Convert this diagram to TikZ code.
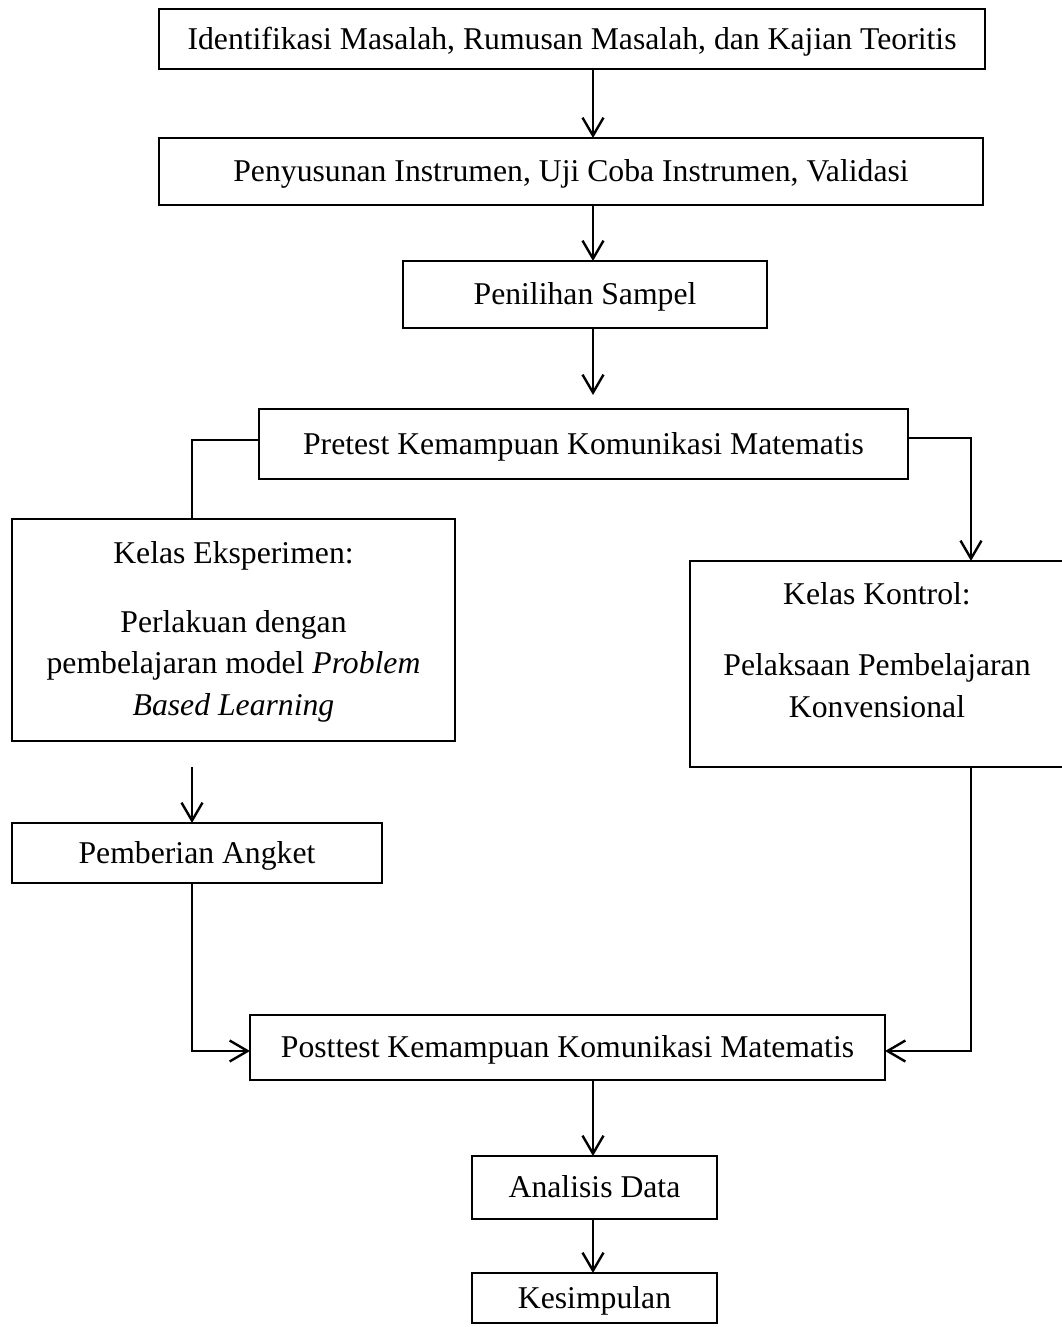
\documentclass[tikz,border=0pt]{standalone}
\usepackage{fontspec}
\setmainfont{Liberation Serif}
\usetikzlibrary{arrows.meta}
\begin{document}
\begin{tikzpicture}[x=1pt,y=-1pt,
  box/.style={draw, line width=2.8pt, inner sep=0pt, outer sep=0pt,
    font=\fontsize{31.7}{41.5}\selectfont, text height=28.5pt, text depth=7.6pt},
  bigbox/.style={draw, line width=2.8pt, inner sep=0pt, outer sep=0pt},
  txt/.style={inner sep=0pt, align=center, font=\fontsize{31.7}{41.5}\selectfont},
  conn/.style={line width=2.4pt, line join=miter},
  arr/.style={conn, -{Straight Barb[length=18pt,width=21pt]}}
]
\useasboundingbox (0,0) rectangle (1061,1327);

% boxes
\node[box, minimum width=826pt, minimum height=60pt] (b1) at (572,39)
  {Identifikasi Masalah, Rumusan Masalah, dan Kajian Teoritis};
\node[box, minimum width=824pt, minimum height=67pt] (b2) at (571,171.5)
  {Penyusunan Instrumen, Uji Coba Instrumen, Validasi};
\node[box, minimum width=364pt, minimum height=67pt] (b3) at (585,294.5)
  {Penilihan Sampel};
\node[box, minimum width=649pt, minimum height=70pt] (b4) at (583.5,444)
  {Pretest Kemampuan Komunikasi Matematis};
\node[bigbox, minimum width=443pt, minimum height=222pt] (b5) at (233.5,630) {};
\node[txt, anchor=north] (b5t) at (233.5,541)
  {Kelas Eksperimen:\\[27.5pt]Perlakuan dengan\\pembelajaran model \textit{Problem}\\\textit{Based Learning}};
\node[bigbox, minimum width=374pt, minimum height=206pt] (b6) at (877,664) {};
\node[txt, anchor=north] (b6t) at (877,582)
  {Kelas Kontrol:\\[30pt]Pelaksaan Pembelajaran\\Konvensional};
\node[box, minimum width=370pt, minimum height=60pt] (b7) at (197,853)
  {Pemberian Angket};
\node[box, minimum width=635pt, minimum height=65pt] (b8) at (567.5,1047.5)
  {Posttest Kemampuan Komunikasi Matematis};
\node[box, minimum width=245pt, minimum height=63pt] (b9) at (594.5,1187.5)
  {Analisis Data};
\node[box, minimum width=245pt, minimum height=50pt] (b10) at (594.5,1298)
  {Kesimpulan};

% helper coordinates
\coordinate (ax) at (593,0);
\coordinate (t3) at (593,395);
\coordinate (pl) at (192,440);
\coordinate (pr) at (971,438);
\coordinate (e1) at (192,767);
\coordinate (pl2) at (192,1051);
\coordinate (pr2) at (971,1051);

% connectors
\draw[arr] (b1.south -| ax) -- (b2.north -| ax);
\draw[arr] (b2.south -| ax) -- (b3.north -| ax);
\draw[arr] (b3.south -| ax) -- (t3);
\draw[conn] (b4.west |- pl) -- (pl) -- (pl |- b5.north);
\draw[arr] (b4.east |- pr) -- (pr) -- (pr |- b6.north);
\draw[arr] (e1) -- (e1 |- b7.north);
\draw[arr] (b7.south -| pl2) -- (pl2) -- (b8.west |- pl2);
\draw[arr] (b6.south -| pr2) -- (pr2) -- (b8.east |- pr2);
\draw[arr] (b8.south -| ax) -- (b9.north -| ax);
\draw[arr] (b9.south -| ax) -- (b10.north -| ax);
\end{tikzpicture}
\end{document}
